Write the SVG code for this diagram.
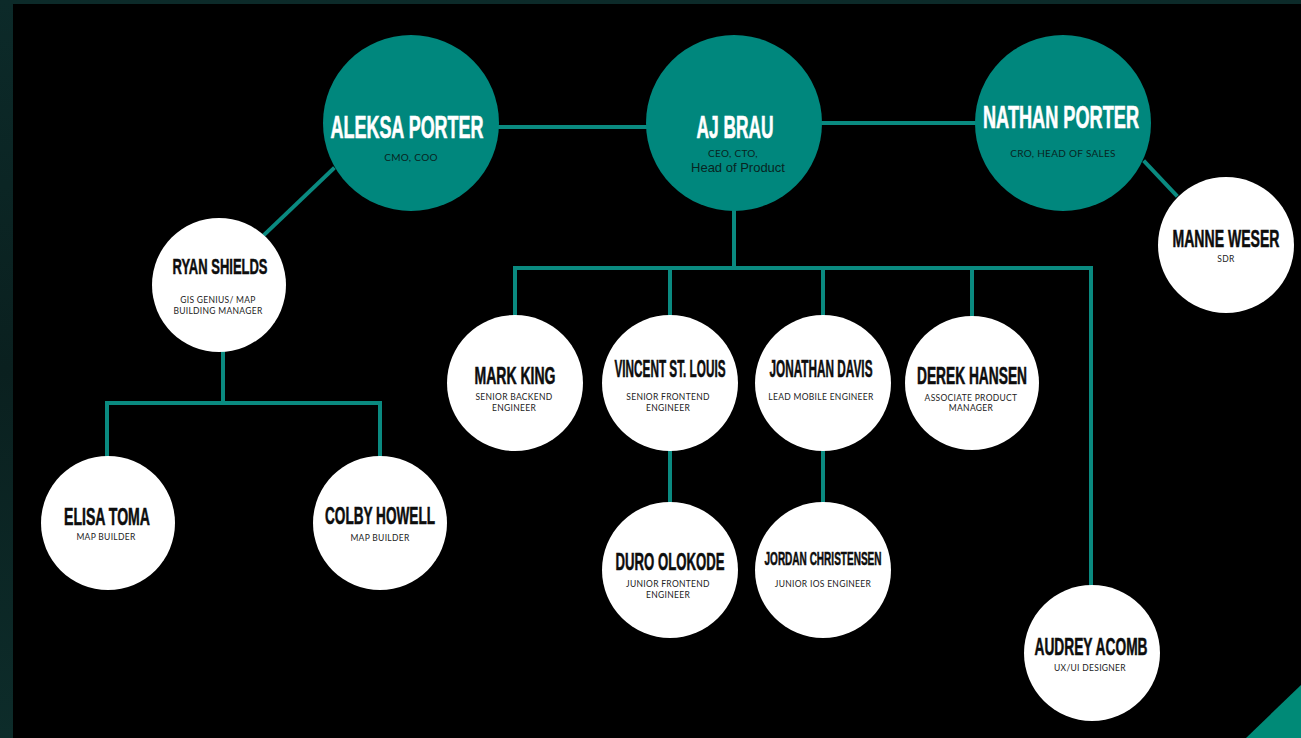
<svg xmlns="http://www.w3.org/2000/svg" width="1301" height="738" viewBox="0 0 1301 738">
<defs>
<linearGradient id="edge" x1="0" y1="0" x2="0" y2="1">
<stop offset="0" stop-color="#0c2a29"/>
<stop offset="0.5" stop-color="#0a201f"/>
<stop offset="1" stop-color="#0d2c2a"/>
</linearGradient>
<style>
.teal{fill:#00877d}
.white{fill:#ffffff}
.conn{stroke:#0a8a80;stroke-width:4;fill:none;stroke-linecap:square}
.nameT{font-family:"Liberation Sans",Arial,sans-serif;font-weight:bold;font-size:18px;fill:#ffffff;stroke:#ffffff;stroke-width:0.35px;text-anchor:middle}
.nameW{font-family:"Liberation Sans",Arial,sans-serif;font-weight:bold;font-size:13px;fill:#0d0d0d;stroke:#0d0d0d;stroke-width:0.3px;text-anchor:middle}
.subT{font-family:Lato,"Liberation Sans",sans-serif;font-size:10px;fill:#082522;text-anchor:middle;letter-spacing:0.3px}
.subW{font-family:Lato,"Liberation Sans",sans-serif;font-size:8.5px;fill:#222222;text-anchor:middle;letter-spacing:0.3px}
.arial{font-family:"Liberation Sans",Arial,sans-serif;font-size:13px;fill:#082522;text-anchor:middle}
</style>
</defs>
<rect x="0" y="0" width="1301" height="738" fill="url(#edge)"/>
<rect x="13" y="4" width="1288" height="734" fill="#000000"/>
<polygon points="1246,738 1301,685 1301,738" fill="#008a77"/>

<g id="connectors">
<line class="conn" x1="499" y1="127" x2="646" y2="127"/>
<line class="conn" x1="822" y1="123" x2="976" y2="123"/>
<line class="conn" x1="333" y1="169" x2="265" y2="234"/>
<line class="conn" x1="1145" y1="162" x2="1176" y2="195"/>
<polyline class="conn" points="734,210 734,268"/>
<polyline class="conn" points="515,316 515,268 1091,268 1091,586"/>
<line class="conn" x1="670" y1="268" x2="670" y2="316"/>
<line class="conn" x1="823" y1="268" x2="823" y2="316"/>
<line class="conn" x1="972" y1="268" x2="972" y2="316"/>
<line class="conn" x1="670" y1="450" x2="670" y2="503"/>
<line class="conn" x1="823" y1="450" x2="823" y2="503"/>
<polyline class="conn" points="223,352 223,403"/>
<polyline class="conn" points="107,456 107,403 380,403 380,456"/>
</g>

<g id="aleksa">
<circle class="teal" cx="411" cy="123" r="88"/>
<text class="nameT" transform="translate(407,138) scale(1,1.78)" textLength="153" lengthAdjust="spacingAndGlyphs">ALEKSA PORTER</text>
<text class="subT" x="411" y="161">CMO, COO</text>
</g>
<g id="ajbrau">
<circle class="teal" cx="734" cy="123" r="88"/>
<text class="nameT" transform="translate(735,138) scale(1,1.78)" textLength="77" lengthAdjust="spacingAndGlyphs">AJ BRAU</text>
<text class="subT" x="733" y="157">CEO, CTO,</text>
<text class="arial" x="738" y="172">Head of Product</text>
</g>
<g id="nathan">
<circle class="teal" cx="1063" cy="123" r="88"/>
<text class="nameT" transform="translate(1061,128) scale(1,1.78)" textLength="156" lengthAdjust="spacingAndGlyphs">NATHAN PORTER</text>
<text class="subT" x="1063" y="157">CRO, HEAD OF SALES</text>
</g>
<g id="manne">
<circle class="white" cx="1226" cy="245" r="68"/>
<text class="nameW" transform="translate(1226,247) scale(1,1.8)" textLength="107" lengthAdjust="spacingAndGlyphs">MANNE WESER</text>
<text class="subW" x="1226" y="262">SDR</text>
</g>
<g id="ryan">
<circle class="white" cx="219" cy="285" r="67"/>
<text class="nameW" transform="translate(220,274) scale(1,1.75)" textLength="95" lengthAdjust="spacingAndGlyphs">RYAN SHIELDS</text>
<text class="subW" x="218" y="303">GIS GENIUS/ MAP</text>
<text class="subW" x="218" y="314">BUILDING MANAGER</text>
</g>
<g id="markking">
<circle class="white" cx="515" cy="383" r="68"/>
<text class="nameW" transform="translate(515,384) scale(1,1.8)" textLength="81" lengthAdjust="spacingAndGlyphs">MARK KING</text>
<text class="subW" x="514" y="400">SENIOR BACKEND</text>
<text class="subW" x="514" y="411">ENGINEER</text>
</g>
<g id="vincent">
<circle class="white" cx="670" cy="383" r="68"/>
<text class="nameW" transform="translate(670,377) scale(1,1.8)" textLength="111" lengthAdjust="spacingAndGlyphs">VINCENT ST. LOUIS</text>
<text class="subW" x="668" y="400">SENIOR FRONTEND</text>
<text class="subW" x="668" y="411">ENGINEER</text>
</g>
<g id="jonathan">
<circle class="white" cx="823" cy="383" r="68"/>
<text class="nameW" transform="translate(821,377) scale(1,1.8)" textLength="103" lengthAdjust="spacingAndGlyphs">JONATHAN DAVIS</text>
<text class="subW" x="821" y="400">LEAD MOBILE ENGINEER</text>
</g>
<g id="derek">
<circle class="white" cx="972" cy="383" r="67"/>
<text class="nameW" transform="translate(972,384) scale(1,1.8)" textLength="110" lengthAdjust="spacingAndGlyphs">DEREK HANSEN</text>
<text class="subW" x="971" y="401">ASSOCIATE PRODUCT</text>
<text class="subW" x="971" y="411">MANAGER</text>
</g>
<g id="elisa">
<circle class="white" cx="108" cy="523" r="67"/>
<text class="nameW" transform="translate(107,525) scale(1,1.8)" textLength="86" lengthAdjust="spacingAndGlyphs">ELISA TOMA</text>
<text class="subW" x="106" y="540">MAP BUILDER</text>
</g>
<g id="colby">
<circle class="white" cx="380" cy="523" r="67"/>
<text class="nameW" transform="translate(380,524) scale(1,1.8)" textLength="110" lengthAdjust="spacingAndGlyphs">COLBY HOWELL</text>
<text class="subW" x="380" y="541">MAP BUILDER</text>
</g>
<g id="duro">
<circle class="white" cx="670" cy="570" r="68"/>
<text class="nameW" transform="translate(670,570) scale(1,1.8)" textLength="109" lengthAdjust="spacingAndGlyphs">DURO OLOKODE</text>
<text class="subW" x="668" y="587">JUNIOR FRONTEND</text>
<text class="subW" x="668" y="598">ENGINEER</text>
</g>
<g id="jordan">
<circle class="white" cx="823" cy="570" r="68"/>
<text class="nameW" transform="translate(823,565) scale(1,1.8)" style="font-size:10px" textLength="117" lengthAdjust="spacingAndGlyphs">JORDAN CHRISTENSEN</text>
<text class="subW" x="823" y="587">JUNIOR IOS ENGINEER</text>
</g>
<g id="audrey">
<circle class="white" cx="1092" cy="653" r="68"/>
<text class="nameW" transform="translate(1091,655) scale(1,1.8)" textLength="113" lengthAdjust="spacingAndGlyphs">AUDREY ACOMB</text>
<text class="subW" x="1090" y="671">UX/UI DESIGNER</text>
</g>
</svg>
